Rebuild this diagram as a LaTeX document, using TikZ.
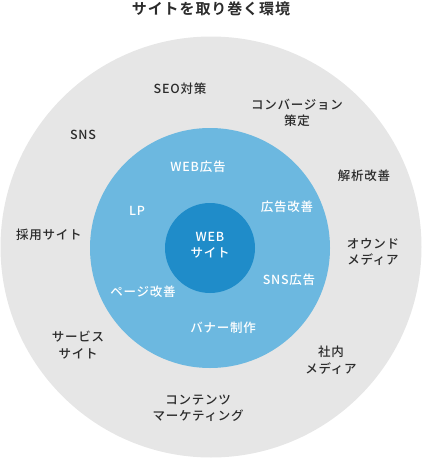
\documentclass[tikz,border=0pt]{standalone}
\usepackage{fontspec}
\setmainfont{Noto Sans CJK JP}[UprightFont=* Medium, BoldFont=* Bold, LetterSpace=6]
\usepackage{tikz}
\usetikzlibrary{positioning}
\definecolor{ringgray}{HTML}{E6E6E6}
\definecolor{ringblue}{HTML}{6CB8E0}
\definecolor{coreblue}{HTML}{1F8CC9}
\definecolor{txtgray}{HTML}{2B2B2B}
\tikzset{
  ring/.style={circle, inner sep=0pt, draw=none},
  outlbl/.style={align=center, text=txtgray, inner sep=0pt, font=\fontsize{12.5}{16.5}\selectfont},
  inlbl/.style={align=center, text=white, inner sep=0pt, font=\fontsize{12.5}{16.5}\selectfont},
}

\begin{document}
\begin{tikzpicture}[x=1pt, y=-1pt]
  \useasboundingbox (0,0) rectangle (422,458);
  \node[font=\fontsize{15}{18}\selectfont\bfseries, text=txtgray, inner sep=0pt] (title) at (211,9) {サイトを取り巻く環境};
  % rings
  \node[ring, fill=ringgray, minimum size=421pt] (outer) at (211,247) {};
  \node[ring, fill=ringblue, minimum size=240pt] (mid) at (210,248) {};
  \node[ring, fill=coreblue, minimum size=90pt] (core) at (210,248) {};
  % centre
  \node[inlbl] (site) at (210,245) {WEB\\サイト};
  % inner ring
  \node[inlbl] (webad) at (198,167) {WEB広告};
  \node[inlbl] (lp) at (137,211) {LP};
  \node[inlbl] (adimp) at (287,207) {広告改善};
  \node[inlbl] (snsad) at (289,280) {SNS広告};
  \node[inlbl] (pageimp) at (143,292) {ページ改善};
  \node[inlbl] (banner) at (223,328) {バナー制作};
  % outer ring
  \node[outlbl] (seo) at (180,89) {SEO対策};
  \node[outlbl] (conv) at (297,113) {コンバージョン\\策定};
  \node[outlbl] (sns) at (83,135) {SNS};
  \node[outlbl] (analysis) at (364,176) {解析改善};
  \node[outlbl] (recruit) at (49,235) {採用サイト};
  \node[outlbl] (owned) at (373,252) {オウンド\\メディア};
  \node[outlbl] (service) at (78,345) {サービス\\サイト};
  \node[outlbl] (inhouse) at (331,360) {社内\\メディア};
  \node[outlbl] (content) at (198,408) {コンテンツ\\マーケティング};
\end{tikzpicture}
\end{document}
